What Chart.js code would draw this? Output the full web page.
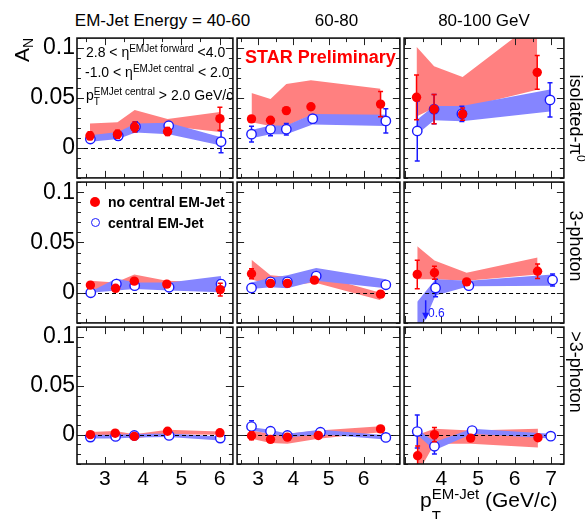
<!DOCTYPE html>
<html>
<head>
<meta charset="utf-8">
<script src="https://cdn.jsdelivr.net/npm/chart.js@4.4.1/dist/chart.umd.min.js"></script>
<style>
  body { margin: 0; background: #fff; }
  #wrap { position: relative; width: 585px; height: 519px; overflow: hidden;
          font-family: "Liberation Sans", Arial, Helvetica, sans-serif; color: #000; }
  #plots canvas { position: absolute; }
  .t { position: absolute; white-space: nowrap; line-height: 1; }
  .t sup, .t sub { line-height: 0; }
  .inner { font-size: 14px; }
  .inner sup { font-size: 10px; vertical-align: 5px; }
</style>
</head>
<body>
<div id="wrap">
  <div id="plots"></div>
  <div id="labels"></div>

  <!-- y title -->
  <div class="t" style="left:21px;top:50px;font-size:21px;transform:translate(-50%,-50%) rotate(-90deg)">A<sub style="font-size:14px;vertical-align:-4px">N</sub></div>

  <!-- cuts -->
  <div class="t inner" style="left:86px;top:44.8px">2.8 &lt; η<sup>EMJet forward</sup> &lt;4.0</div>
  <div class="t inner" style="left:85px;top:65.4px">-1.0 &lt; η<sup>EMJet central</sup> &lt; 2.0</div>
  <div class="t inner" style="left:86px;top:88.2px">p<span style="position:relative"><sup>EMJet central</sup><span style="position:absolute;left:0;top:10px;font-size:10px;line-height:1">T</span></span> &gt; 2.0 GeV/c</div>

  <div class="t" style="left:245px;top:48px;font-size:18px;font-weight:bold;color:#ff0000">STAR Preliminary</div>

  <!-- legend -->
  <div style="position:absolute;left:90px;top:196.7px;width:10px;height:10px;border-radius:50%;background:#ff0000"></div>
  <div class="t" style="left:108px;top:194.8px;font-size:14px;font-weight:bold">no central EM-Jet</div>
  <div style="position:absolute;left:90.5px;top:218px;width:9.4px;height:9.4px;box-sizing:border-box;border-radius:50%;border:1.4px solid #1a1aff"></div>
  <div class="t" style="left:108px;top:215.5px;font-size:14px;font-weight:bold">central EM-Jet</div>

  <div class="t" style="left:428px;top:306.8px;font-size:12px;color:#1a1aff">0.6</div>

  <!-- x title -->
  <div class="t" style="left:420px;top:488.9px;font-size:21px">p<span style="position:relative"><sup style="font-size:15px;vertical-align:8px">EM-Jet</sup><span style="position:absolute;left:0;top:20px;font-size:15px;line-height:1">T</span></span> (GeV/c)</div>
</div>

<script>
// column / row headings and tick labels
const colTitles = ['EM-Jet Energy = 40-60', '60-80', '80-100 GeV']
const colTitleX = [162.5, 336.5, 484]
const rowTitles = ['isolated-π<sup style="font-size:12px;vertical-align:7px">0</sup>', '3-photon', '&gt;3-photon']
const rowTitleY = [118, 246, 372]
const xTickVals = [[3, 4, 5, 6], [3, 4, 5, 6], [4, 5, 6, 7]]
const xRange = [[2.27, 6.35], [2.4, 7.03], [2.98, 7.35]]
const yTickVals = [0, 0.05, 0.1]
const yTickText = ['0', '0.05', '0.1']
const yRange = [-0.03, 0.11]

// panels in reading order: rows isolated-pi0 / 3-photon / >3-photon, cols 40-60 / 60-80 / 80-100
// red = no central EM-Jet, blue = central EM-Jet, lo/hi = systematic band
const redX = [
  [2.61, 3.33, 3.78, 4.64, 6.01],
  [2.81, 3.35, 3.80, 4.50, 6.48],
  [3.32, 3.80, 4.58, 6.62],
  [2.62, 3.28, 3.77, 4.62, 6.02],
  [2.81, 3.35, 3.83, 4.60, 6.48],
  [3.34, 3.81, 4.69, 6.63],
  [2.62, 3.27, 3.77, 4.64, 6.01],
  [2.81, 3.35, 3.83, 4.71, 6.48],
  [3.35, 3.81, 4.80, 6.64]
]
const redY = [
  [0.0121, 0.0138, 0.0209, 0.0164, 0.0293],
  [0.0291, 0.0277, 0.0374, 0.0413, 0.0439],
  [0.0507, 0.0388, 0.0339, 0.0757],
  [0.0076, 0.0044, 0.0115, 0.0086, 0.0031],
  [0.0189, 0.0093, 0.0093, 0.0125, -0.0014],
  [0.0182, 0.0199, 0.0108, 0.0214],
  [0.0000, 0.0015, -0.0018, 0.0035, 0.0019],
  [-0.0011, -0.0048, -0.0025, -0.0008, 0.0059],
  [-0.0216, 0.0000, -0.0035, -0.0031]
]
const redErr = [
  [0.004, 0.004, 0.005, 0.004, 0.0115],
  [0.003, 0.003, 0.003, 0.003, 0.0126],
  [0.0224, 0.0146, 0.0062, 0.0168],
  [0.002, 0.002, 0.002, 0.002, 0.0064],
  [0.005, 0.003, 0.003, 0.003, 0.003],
  [0.0142, 0.0064, 0.003, 0.0072],
  [0.002, 0.002, 0.002, 0.002, 0.002],
  [0.004, 0.002, 0.002, 0.002, 0.002],
  [0.010, 0.0072, 0.002, 0.002]
]
const redLo = [
  [0.011, 0.013, 0.021, 0.022, 0.016],
  [0.0258, 0.0219, 0.022, 0.033, 0.032],
  [0.0316, 0.040, 0.040, 0.0582],
  [0.0038, 0.0022, 0.0086, 0.0054, 0.0006],
  [0.0134, 0.007, 0.007, 0.0102, -0.0075],
  [0.0134, 0.0134, 0.0118, 0.0182],
  [-0.0017, -0.0007, -0.004, 0.0003, 0.0],
  [-0.0041, -0.0085, -0.0092, -0.0041, 0.0025],
  [-0.04, -0.0092, -0.0092, -0.0132]
]
const redHi = [
  [0.0245, 0.0258, 0.0381, 0.029, 0.0359],
  [0.0549, 0.0491, 0.064, 0.0679, 0.0592],
  [0.1013, 0.0818, 0.0711, 0.128],
  [0.0118, 0.0102, 0.0182, 0.0118, 0.0102],
  [0.0327, 0.0173, 0.016, 0.0182, 0.0],
  [0.0462, 0.032, 0.0199, 0.035],
  [0.0027, 0.0037, 0.0003, 0.005, 0.0033],
  [0.0042, 0.001, 0.001, 0.0042, 0.0087],
  [0.0, 0.006, 0.0042, 0.006]
]
const blueX = [
  [2.62, 3.35, 3.80, 4.67, 6.04],
  [2.81, 3.35, 3.80, 4.55, 6.63],
  [3.34, 3.80, 4.56, 6.97],
  [2.63, 3.30, 3.78, 4.68, 6.04],
  [2.81, 3.35, 3.83, 4.65, 6.63],
  [3.34, 3.84, 4.75, 7.04],
  [2.62, 3.28, 3.77, 4.68, 6.02],
  [2.81, 3.35, 3.83, 4.77, 6.63],
  [3.34, 3.81, 4.84, 6.99]
]
const blueY = [
  [0.0089, 0.0121, 0.0213, 0.0222, 0.0063],
  [0.0138, 0.0187, 0.0187, 0.0293, 0.0271],
  [0.0170, 0.0388, 0.0342, 0.0481],
  [0.0000, 0.0086, 0.0070, 0.0054, 0.0086],
  [0.0047, 0.0108, 0.0108, 0.0166, 0.0079],
  [-0.6, 0.0047, 0.0070, 0.0127],
  [-0.0025, -0.0018, -0.0008, -0.0008, -0.0035],
  [0.0083, 0.0035, -0.0008, 0.0025, -0.0028],
  [0.0032, -0.0119, 0.0042, -0.0015]
]
const blueErr = [
  [0.003, 0.004, 0.005, 0.004, 0.011],
  [0.0078, 0.0065, 0.0057, 0.004, 0.0121],
  [0.030, 0.0146, 0.0076, 0.0172],
  [0.001, 0.002, 0.002, 0.002, 0.004],
  [0.004, 0.003, 0.003, 0.003, 0.003],
  [0, 0.0088, 0.003, 0.006],
  [0.001, 0.001, 0.001, 0.001, 0.001],
  [0.006, 0.002, 0.002, 0.002, 0.002],
  [0.0168, 0.008, 0.002, 0.002]
]
const blueLo = [
  [0.0063, 0.0089, 0.0155, 0.0138, 0.0024],
  [0.0096, 0.0138, 0.0138, 0.0235, 0.0219],
  [0.0138, 0.0277, 0.0267, 0.0364],
  [0.0000, 0.0022, 0.0038, 0.0022, 0.0006],
  [0.0038, 0.0054, 0.0044, 0.0118, 0.0044],
  [-0.045, -0.0027, 0.0064, 0.0070],
  [-0.004, -0.004, -0.003, -0.0025, -0.006],
  [0.0042, 0.001, -0.003, 0.0003, -0.005],
  [0.0, -0.016, 0.001, -0.004]
]
const blueHi = [
  [0.0128, 0.016, 0.0245, 0.0252, 0.0106],
  [0.018, 0.0225, 0.0225, 0.0339, 0.0332],
  [0.0284, 0.042, 0.042, 0.0585],
  [0.0012, 0.0141, 0.0102, 0.0102, 0.0166],
  [0.0102, 0.015, 0.0173, 0.0247, 0.0134],
  [-0.009, 0.0134, 0.0118, 0.0182],
  [0.0, 0.0, 0.0007, 0.0013, -0.002],
  [0.0077, 0.005, 0.001, 0.005, -0.0006],
  [0.006, -0.0075, 0.006, 0.001]
]
// off-scale point (3-photon, 80-100): arrow pointing down
const arrowPanel = 5
const arrowX = 3.57
const arrowFrom = -0.0075
const arrowTo = -0.0268

const colEdges = [[77, 235], [235, 402], [402, 566]]
const rowEdges = [[36, 180], [180, 325], [325, 464]]
const FONT = '"Liberation Sans", Arial, Helvetica, sans-serif'
const RED = '#ff0000'
const BLUE = '#1a1aff'

const pts = (xs, ys) => xs.map((x, i) => ({ x: x, y: ys[i] }))

//headings
let labels = document.getElementById('labels')
colTitles.forEach((t, i) => {
  let d = document.createElement('div')
  d.className = 't'
  d.style.cssText = `left:${colTitleX[i]}px;top:20px;font-size:17px;transform:translate(-50%,-50%)`
  d.textContent = t
  labels.appendChild(d)
})
rowTitles.forEach((t, i) => {
  let d = document.createElement('div')
  d.className = 't'
  d.style.cssText = `left:576px;top:${rowTitleY[i]}px;font-size:18px;transform:translate(-50%,-50%) rotate(90deg)`
  d.innerHTML = t
  labels.appendChild(d)
})

// frame, inward ticks, zero line, error bars, arrow
const panelDeco = {
  id: 'panelDeco',
  beforeDatasetDraw(chart, args) {
    const ds = chart.data.datasets[args.index]
    if (!ds.errs) return
    const ctx = chart.ctx
    const a = chart.chartArea
    const sx = chart.scales.x
    const sy = chart.scales.y
    ctx.save()
    ctx.beginPath()
    ctx.rect(a.left, a.top, a.right - a.left, a.bottom - a.top)
    ctx.clip()
    if (ds.zeroLine) {
      const y0 = Math.round(sy.getPixelForValue(0)) + 0.5
      ctx.setLineDash([4, 3])
      ctx.strokeStyle = '#000'
      ctx.lineWidth = 1
      ctx.beginPath()
      ctx.moveTo(a.left, y0)
      ctx.lineTo(a.right, y0)
      ctx.stroke()
      ctx.setLineDash([])
    }
    ctx.strokeStyle = ds.errColor
    ctx.lineWidth = 1.5
    ds.data.forEach((pt, i) => {
      const e = ds.errs[i]
      if (!e) return
      const px = sx.getPixelForValue(pt.x)
      const top = sy.getPixelForValue(pt.y + e)
      const bot = sy.getPixelForValue(pt.y - e)
      ctx.beginPath()
      ctx.moveTo(px, top)
      ctx.lineTo(px, bot)
      ctx.moveTo(px - 2.5, top)
      ctx.lineTo(px + 2.5, top)
      ctx.moveTo(px - 2.5, bot)
      ctx.lineTo(px + 2.5, bot)
      ctx.stroke()
    })
    ctx.restore()
  },
  afterDraw(chart, args, opts) {
    const ctx = chart.ctx
    const a = chart.chartArea
    const sx = chart.scales.x
    const sy = chart.scales.y
    ctx.save()
    ctx.strokeStyle = '#222'
    ctx.lineWidth = 1
    ctx.beginPath()
    for (let k = -3; k <= 11; k++) {
      const py = Math.round(sy.getPixelForValue(k / 100)) + 0.5
      const len = k % 5 === 0 ? 7 : 4
      ctx.moveTo(a.left, py)
      ctx.lineTo(a.left + len, py)
      ctx.moveTo(a.right, py)
      ctx.lineTo(a.right - len, py)
    }
    for (let k = Math.ceil(sx.min * 2); k <= Math.floor(sx.max * 2); k++) {
      const px = Math.round(sx.getPixelForValue(k / 2)) + 0.5
      const len = k % 2 === 0 ? 7 : 4
      ctx.moveTo(px, a.top)
      ctx.lineTo(px, a.top + len)
      ctx.moveTo(px, a.bottom)
      ctx.lineTo(px, a.bottom - len)
    }
    ctx.stroke()
    ctx.strokeStyle = '#111'
    ctx.lineWidth = 1.6
    ctx.strokeRect(a.left, a.top, a.right - a.left, a.bottom - a.top)

    if (opts.arrow) {
      const px = sx.getPixelForValue(opts.arrow.x)
      const p1 = sy.getPixelForValue(opts.arrow.from)
      const p2 = sy.getPixelForValue(opts.arrow.to)
      ctx.strokeStyle = BLUE
      ctx.fillStyle = BLUE
      ctx.lineWidth = 1.5
      ctx.beginPath()
      ctx.moveTo(px, p1)
      ctx.lineTo(px, p2 - 5)
      ctx.stroke()
      ctx.beginPath()
      ctx.moveTo(px - 3.5, p2 - 7)
      ctx.lineTo(px + 3.5, p2 - 7)
      ctx.lineTo(px, p2)
      ctx.closePath()
      ctx.fill()
    }
    ctx.restore()
  }
}

const bandSet = (xs, ys, color, fill, order) => ({
  data: pts(xs, ys),
  borderWidth: 0,
  borderColor: 'rgba(0,0,0,0)',
  backgroundColor: color,
  pointRadius: 0,
  fill: fill,
  order: order
})

let plots = document.getElementById('plots')
for (let p = 0; p < 9; p++) {
  const r = Math.floor(p / 3)
  const c = p % 3
  const [x0, x1] = colEdges[c]
  const [y0, y1] = rowEdges[r]
  const padL = c === 0 ? x0 : 4
  const padB = r === 2 ? 32 : 4
  const pad = 4

  let cv = document.createElement('canvas')
  cv.width = x1 - x0 + padL + pad
  cv.height = y1 - y0 + pad + padB
  cv.style.left = (x0 - padL) + 'px'
  cv.style.top = (y0 - pad) + 'px'
  plots.appendChild(cv)

  new Chart(cv, {
    type: 'line',
    data: {
      datasets: [
        bandSet(redX[p], redLo[p], '#ff8080', '+1', 10),
        bandSet(redX[p], redHi[p], '#ff8080', false, 10),
        bandSet(blueX[p], blueLo[p], '#8585ff', '+1', 8),
        bandSet(blueX[p], blueHi[p], '#8585ff', false, 8),
        {
          data: pts(blueX[p], blueY[p]),
          showLine: false,
          pointRadius: 4.7,
          pointBackgroundColor: '#fff',
          pointBorderColor: BLUE,
          pointBorderWidth: 1.4,
          errs: blueErr[p],
          errColor: BLUE,
          zeroLine: true,
          order: 3
        },
        {
          data: pts(redX[p], redY[p]),
          showLine: false,
          pointRadius: 4.7,
          pointBackgroundColor: RED,
          pointBorderWidth: 0,
          errs: redErr[p],
          errColor: RED,
          order: 2
        }
      ]
    },
    options: {
      responsive: false,
      animation: false,
      devicePixelRatio: 1,
      layout: { padding: { left: 0, right: pad, top: pad, bottom: 0 } },
      plugins: {
        legend: { display: false },
        tooltip: { enabled: false },
        panelDeco: p === arrowPanel ? { arrow: { x: arrowX, from: arrowFrom, to: arrowTo } } : {}
      },
      scales: {
        x: {
          type: 'linear',
          min: xRange[c][0],
          max: xRange[c][1],
          grid: { display: false, drawTicks: false },
          border: { display: false },
          ticks: {
            display: r === 2,
            color: '#000',
            font: { family: FONT, size: 21 },
            padding: 3,
            maxRotation: 0,
            autoSkip: false,
            callback: (v) => String(v)
          },
          afterBuildTicks: (s) => { s.ticks = xTickVals[c].map(v => ({ value: v })) },
          afterFit: (s) => {
            s.height = padB
            s.paddingLeft = 0
            s.paddingRight = 0
          }
        },
        y: {
          min: yRange[0],
          max: yRange[1],
          grid: { display: false, drawTicks: false },
          border: { display: false },
          ticks: {
            display: c === 0,
            color: '#000',
            font: { family: FONT, size: 23 },
            padding: 2,
            callback: (v) => yTickText[yTickVals.indexOf(v)]
          },
          afterBuildTicks: (s) => { s.ticks = yTickVals.map(v => ({ value: v })) },
          afterFit: (s) => {
            s.width = padL
            s.paddingTop = 0
            s.paddingBottom = 0
          }
        }
      }
    },
    plugins: [panelDeco]
  })
}
</script>
</body>
</html>
